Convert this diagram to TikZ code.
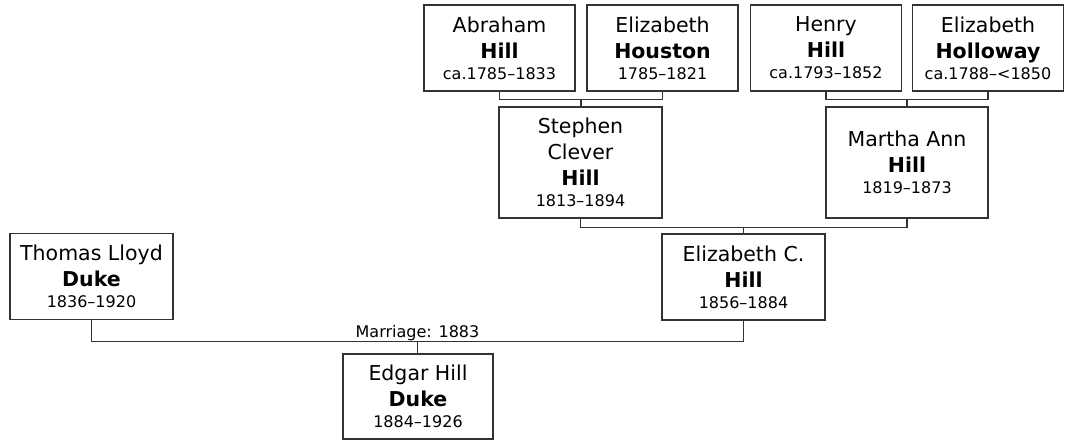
\documentclass[tikz,border=0pt]{standalone}
\usepackage{fontspec}
\setmainfont{DejaVu Sans}
\usepackage{tikz}
\usetikzlibrary{positioning,calc}
\definecolor{treeline}{RGB}{51,51,51}
\newcommand{\yrs}[1]{{\fontsize{16}{20}\selectfont #1}}
\tikzset{
  person/.style={draw=treeline, line width=1.3pt, fill=white, align=center, inner sep=2pt,
                 minimum width=151pt, minimum height=86pt, font=\fontsize{20.5}{26}\selectfont},
  wideperson/.style={person, minimum width=163pt},
  tallperson/.style={wideperson, minimum height=111pt},
  link/.style={draw=treeline, line width=1.3pt},
  note/.style={font=\fontsize{16}{20}\selectfont, inner sep=0pt}
}

\begin{document}
\begin{tikzpicture}[x=1pt, y=1pt]
    \useasboundingbox (0,0) rectangle (1068,440);
    % grandparents
    \node[person] (abr) at (499.5,392) {Abraham\\\textbf{Hill}\\[-5pt]\yrs{ca.1785--1833}};
    \node[person] (hou) at (662.5,392) {Elizabeth\\\textbf{Houston}\\[-5pt]\yrs{1785--1821}};
    \node[person] (hen) at (826,392) {Henry\\\textbf{Hill}\\[-5pt]\yrs{ca.1793--1852}};
    \node[person] (hol) at (988,392) {Elizabeth\\\textbf{Holloway}\\[-5pt]\yrs{ca.1788--<1850}};
    % parents
    \node[tallperson] (ste) at (580.5,277.5) {Stephen\\Clever\\\textbf{Hill}\\[-5pt]\yrs{1813--1894}};
    \node[tallperson, minimum width=162pt] (mar) at (907,277.5) {Martha Ann\\\textbf{Hill}\\[-5pt]\yrs{1819--1873}};
    \node[wideperson] (eli) at (743.5,163) {Elizabeth C.\\\textbf{Hill}\\[-5pt]\yrs{1856--1884}};
    \node[wideperson] (tho) at (91.5,163.5) {Thomas Lloyd\\\textbf{Duke}\\[-5pt]\yrs{1836--1920}};
    \node[person, minimum width=150pt, minimum height=85pt] (edg) at (418,43.5) {Edgar Hill\\\textbf{Duke}\\[-5pt]\yrs{1884--1926}};
    % couple bars
    \coordinate (u1) at ($(abr.south)!0.5!(hou.south)+(0,-8)$);
    \coordinate (u2) at ($(hen.south)!0.5!(hol.south)+(0,-8)$);
    \coordinate (u3) at ($(ste.south)!0.5!(mar.south)+(0,-9)$);
    \coordinate (u4) at ($(tho.south)!0.5!(eli.south)+(0,-21)$);
    \draw[link] (abr.south) |- (u1) -| (hou.south);
    \draw[link] (u1) -- (u1 |- ste.north);
    \draw[link] (hen.south) |- (u2) -| (hol.south);
    \draw[link] (u2) -- (u2 |- mar.north);
    \draw[link] (ste.south) |- (u3) -| (mar.south);
    \draw[link] (u3) -- (u3 |- eli.north);
    \draw[link] (tho.south) |- (u4) -| (eli.south);
    \draw[link] (u4) -- (u4 |- edg.north);
    \node[note, anchor=base] (wed) at ($(u4)+(0,3.5)$) {Marriage: 1883};
\end{tikzpicture}
\end{document}
